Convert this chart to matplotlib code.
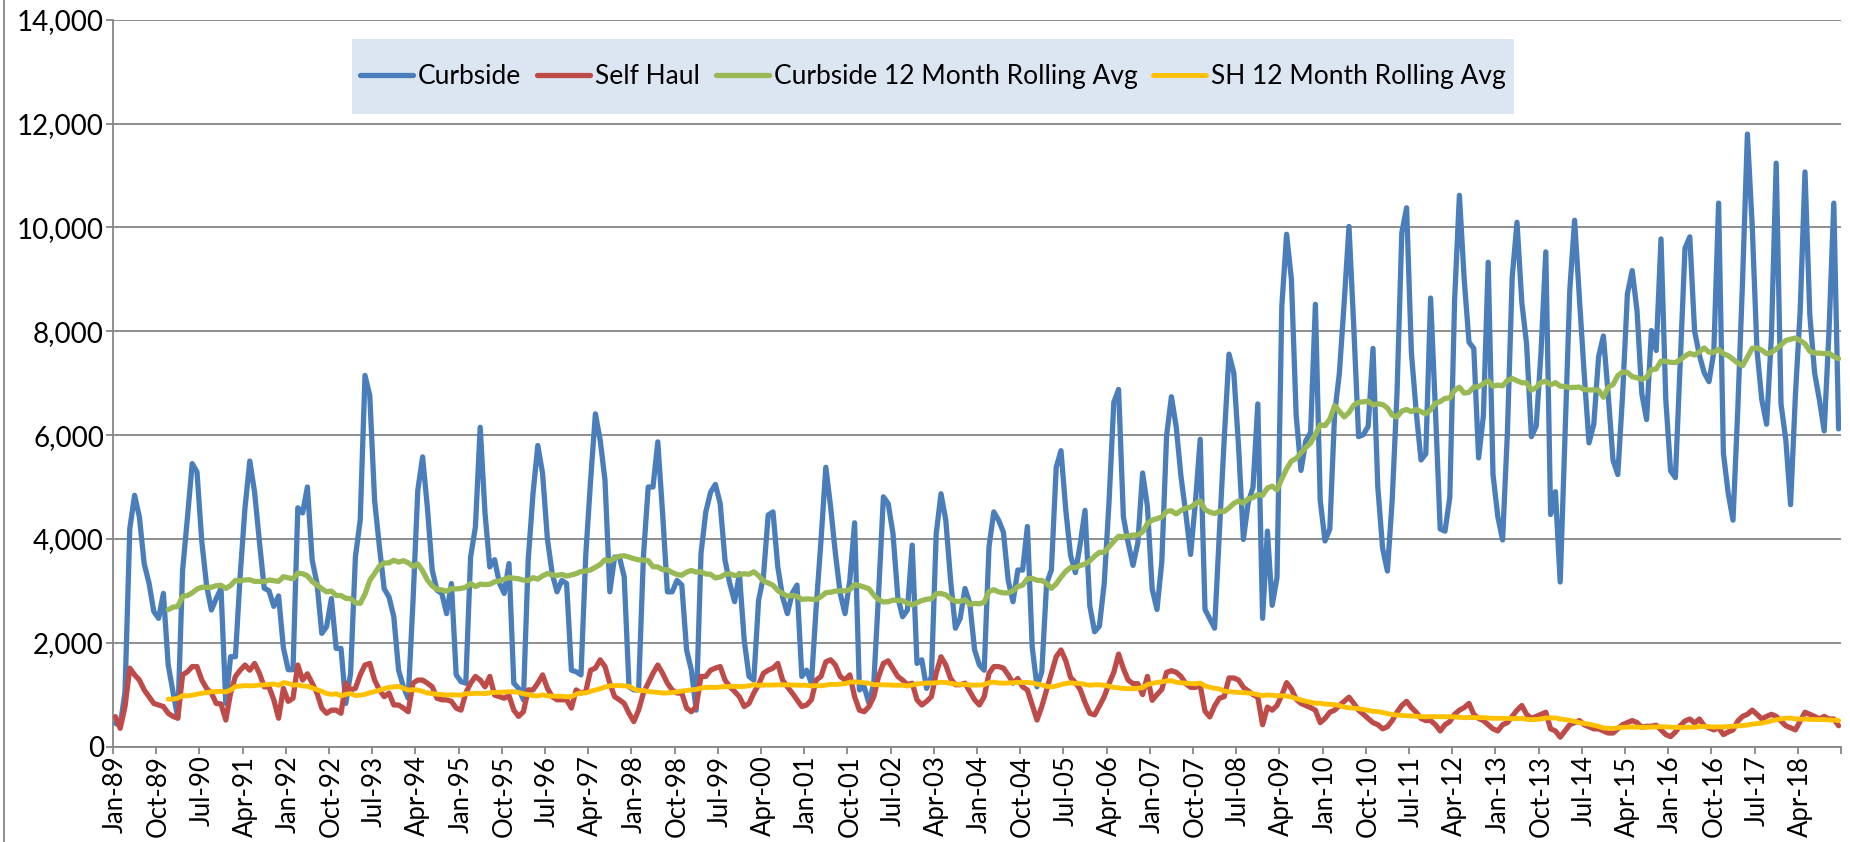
import matplotlib
matplotlib.use('Agg')
import matplotlib.pyplot as plt
import numpy as np
import pandas as pd
from matplotlib.lines import Line2D
from matplotlib.patches import Rectangle
from matplotlib.ticker import FuncFormatter
from matplotlib import font_manager

# ---------------- data (monthly, Jan-89 .. Dec-18) ----------------
curbside = [
    450, 400, 1050, 4200, 4840, 4420, 3520, 3150, 2600, 2470, 2950, 1570,
    1050, 550, 3400, 4400, 5450, 5290, 3950, 3100, 2630, 2850, 3045, 830,
    1730, 1730, 3300, 4600, 5500, 4900, 3950, 3050, 3000, 2700, 2900, 1900,
    1480, 1480, 4600, 4500, 5000, 3590, 3140, 2180, 2310, 2850, 1890, 1890,
    830, 1410, 3650, 4360, 7150, 6760, 4740, 3850, 3040, 2880, 2500, 1470,
    1150, 930, 2800, 4940, 5580, 4600, 3400, 3010, 2950, 2560, 3140, 1380,
    1250, 1220, 3650, 4230, 6150, 4500, 3460, 3600, 3150, 2950, 3525, 1220,
    1120, 900, 3590, 4870, 5800, 5260, 4000, 3330, 2980, 3200, 3140, 1470,
    1440, 1380, 3700, 5130, 6410, 5900, 5130, 2980, 3650, 3650, 3270, 1150,
    1090, 1090, 3650, 5000, 5000, 5870, 4490, 2980, 2980, 3200, 3110, 1860,
    1470, 700, 3720, 4520, 4900, 5050, 4680, 3590, 3140, 2790, 3330, 2050,
    1350, 1280, 2820, 3270, 4460, 4520, 3460, 2880, 2560, 2950, 3110, 1350,
    1470, 1220, 2690, 3970, 5380, 4620, 3720, 2950, 2560, 3200, 4310, 1090,
    1150, 830, 1220, 2950, 4810, 4680, 4100, 2880, 2500, 2630, 3880, 1600,
    1670, 1120, 1350, 4100, 4870, 4360, 3200, 2280, 2470, 3045, 2760, 1860,
    1570, 1470, 3850, 4520, 4360, 4130, 3200, 2790, 3400, 3400, 4240, 1920,
    1150, 1440, 3140, 3400, 5380, 5700, 4550, 3680, 3350, 3900, 4550, 2710,
    2210, 2320, 3140, 4700, 6630, 6880, 4420, 3920, 3490, 3920, 5270, 4630,
    3030, 2640, 3560, 5990, 6740, 6160, 5200, 4490, 3700, 4700, 5920, 2640,
    2460, 2280, 4130, 5920, 7560, 7200, 5770, 3990, 4700, 4990, 6600, 2470,
    4150, 2720, 3255, 8480, 9870, 9000, 6370, 5320, 5890, 6050, 8520, 4750,
    3960, 4190, 6400, 7200, 8560, 10020, 8070, 5970, 6010, 6170, 7670, 5000,
    3820, 3380, 4750, 6800, 9900, 10380, 7590, 6450, 5520, 5640, 8640, 6500,
    4190, 4150, 4800, 8600, 10620, 9000, 7790, 7670, 5560, 6370, 9330, 5240,
    4430, 3980, 6050, 9040, 10100, 8560, 7750, 5970, 6170, 7590, 9530, 4470,
    4910, 3170, 5970, 8800, 10140, 8640, 7180, 5850, 6210, 7510, 7910, 6780,
    5520, 5240, 6780, 8720, 9170, 8400, 6800, 6300, 8015, 7630, 9780, 6680,
    5310, 5180, 7400, 9600, 9820, 8000, 7540, 7200, 7030, 7600, 10470, 5650,
    4880, 4360, 6500, 9000, 11800, 10040, 7630, 6680, 6210, 7900, 11240, 6600,
    5910, 4660, 6770, 8400, 11070, 8320, 7200, 6680, 6080, 8000, 10470, 6120,
]
self_haul = [
    575, 350, 770, 1510, 1380, 1280, 1090, 960, 830, 800, 770, 640,
    580, 545, 1380, 1440, 1540, 1540, 1280, 1120, 1030, 830, 820, 510,
    1030, 1350, 1470, 1570, 1470, 1600, 1410, 1150, 1150, 900, 545, 1120,
    870, 930, 1570, 1280, 1400, 1220, 1030, 740, 640, 700, 700, 640,
    1220, 1090, 1120, 1380, 1570, 1600, 1280, 1090, 960, 1030, 800, 800,
    740, 670, 1220, 1280, 1280, 1220, 1150, 930, 900, 900, 870, 740,
    700, 1030, 1220, 1350, 1280, 1150, 1350, 990, 960, 930, 980, 700,
    580, 670, 1090, 1090, 1220, 1380, 1120, 960, 900, 900, 900, 740,
    1090, 1030, 1060, 1470, 1510, 1670, 1540, 1220, 960, 900, 830, 640,
    480, 700, 1030, 1220, 1410, 1570, 1410, 1220, 1090, 1030, 1030, 740,
    670, 770, 1350, 1350, 1470, 1510, 1540, 1280, 1150, 1060, 960, 770,
    830, 1030, 1190, 1410, 1470, 1510, 1600, 1280, 1150, 1030, 900, 770,
    800, 900, 1280, 1350, 1630, 1670, 1570, 1350, 1280, 1380, 960, 700,
    670, 770, 960, 1350, 1600, 1650, 1500, 1350, 1280, 1190, 1220, 900,
    800, 870, 960, 1410, 1730, 1570, 1310, 1190, 1190, 1220, 1060, 900,
    800, 960, 1410, 1540, 1540, 1510, 1380, 1220, 1310, 1150, 1090, 800,
    510, 770, 1090, 1410, 1730, 1860, 1650, 1330, 1230, 1100, 850, 640,
    610, 780, 960, 1210, 1430, 1780, 1500, 1280, 1210, 1210, 1000, 1350,
    890, 1000, 1100, 1430, 1460, 1430, 1350, 1210, 1140, 1140, 1180, 680,
    570, 780, 930, 960, 1320, 1320, 1280, 1140, 1070, 1000, 950, 420,
    760, 700, 790, 990, 1230, 1110, 910, 830, 790, 750, 700, 460,
    540, 660, 700, 790, 870, 950, 830, 700, 620, 540, 460, 420,
    340, 380, 500, 660, 790, 870, 750, 660, 540, 500, 500, 420,
    300, 420, 480, 620, 700, 750, 830, 620, 540, 500, 420, 340,
    300, 420, 460, 580, 700, 790, 620, 540, 580, 620, 660, 340,
    300, 180, 300, 420, 460, 500, 420, 380, 340, 340, 300, 260,
    260, 340, 420, 460, 500, 460, 370, 390, 390, 410, 320, 230,
    190, 280, 400, 490, 530, 450, 530, 400, 360, 320, 360, 230,
    280, 320, 490, 580, 620, 700, 620, 530, 580, 620, 580, 490,
    400, 360, 320, 490, 660, 620, 580, 530, 580, 530, 530, 400,
]
months = pd.date_range('1989-01-01', periods=len(curbside), freq='MS')
month_labels = [d.strftime('%b-%y') for d in months]
label_every = 9
series_names = ['Curbside', 'Self Haul', 'Curbside 12 Month Rolling Avg',
                'SH 12 Month Rolling Avg']
window = 12

curbside_avg = pd.Series(curbside).rolling(window).mean()
sh_avg = pd.Series(self_haul).rolling(window).mean()

# ---------------- fonts ----------------
names = {f.name for f in font_manager.fontManager.ttflist}
FONT = 'Lato' if 'Lato' in names else 'DejaVu Sans'
plt.rcParams['font.family'] = [FONT, 'DejaVu Sans']

# ---------------- figure ----------------
W, H = 1850, 842
fig = plt.figure(figsize=(W / 100, H / 100), dpi=100)
ax_l, ax_r, ax_t, ax_b = 113.0, 1841.0, 19.9, 746.5
ax = fig.add_axes([ax_l / W, 1 - ax_b / H, (ax_r - ax_l) / W, (ax_b - ax_t) / H])

GRID = '#868686'
colors = ['#4A7EBB', '#BE4B48', '#98B954', '#FFC000']
x = np.arange(len(curbside)) + 0.5
lines = []
for vals, c, name, lw in zip([curbside, self_haul, curbside_avg, sh_avg], colors,
                             series_names, [3.8, 3.8, 3.8, 3.5]):
    ln, = ax.plot(x, vals, color=c, lw=lw, label=name,
                  solid_joinstyle='round', solid_capstyle='round', zorder=3)
    lines.append(ln)

ax.set_xlim(0, len(curbside))
ax.set_ylim(0, 14000)
ax.set_yticks(np.arange(0, 14001, 2000))
ax.yaxis.set_major_formatter(FuncFormatter(lambda v, p: f'{int(v):,}'))
ax.grid(axis='y', color=GRID, lw=1.3)
ax.set_axisbelow(True)
for s in ['top', 'right']:
    ax.spines[s].set_visible(False)
for s in ['left', 'bottom']:
    ax.spines[s].set_color(GRID)
    ax.spines[s].set_linewidth(1.3)

# tick marks at category boundaries, labels at category centres
ax.set_xticks(np.arange(0, len(curbside) + 1, label_every))
ax.set_xticklabels([])
lab_idx = list(range(0, len(curbside), label_every))
ax.set_xticks(np.array(lab_idx) + 0.5, minor=True)
ax.set_xticklabels([month_labels[i] for i in lab_idx], minor=True, rotation=90,
                   va='top', ha='center')
ax.tick_params(axis='x', which='major', length=5, width=1.3, color=GRID, direction='out')
ax.tick_params(axis='x', which='minor', length=0, pad=6.5, labelsize=18.5)
ax.tick_params(axis='y', length=5, width=1.3, color=GRID, pad=1.5, labelsize=20)

# legend box
lx0, lx1, ly0, ly1 = 352, 1514, 39, 114
axw, axh = ax_r - ax_l, ax_b - ax_t
rect = Rectangle(((lx0 - ax_l) / axw, 1 - (ly1 - ax_t) / axh),
                 (lx1 - lx0) / axw, (ly1 - ly0) / axh,
                 transform=ax.transAxes, facecolor='#DCE6F2', edgecolor='none', zorder=5)
ax.add_patch(rect)
leg = ax.legend(handles=lines, loc='center', ncol=4, frameon=False,
                bbox_to_anchor=(((lx0 + lx1) / 2 - ax_l) / axw, 1 - ((ly0 + ly1) / 2 - ax_t) / axh),
                fontsize=19, handlelength=2.0, handletextpad=0.2, columnspacing=0.6,
                borderaxespad=0)
leg.set_zorder(6)

# chart border at left edge
fig.add_artist(Line2D([4 / W, 4 / W], [0, 1], color=GRID, lw=1.3))

fig.savefig('out.png', dpi=100)
